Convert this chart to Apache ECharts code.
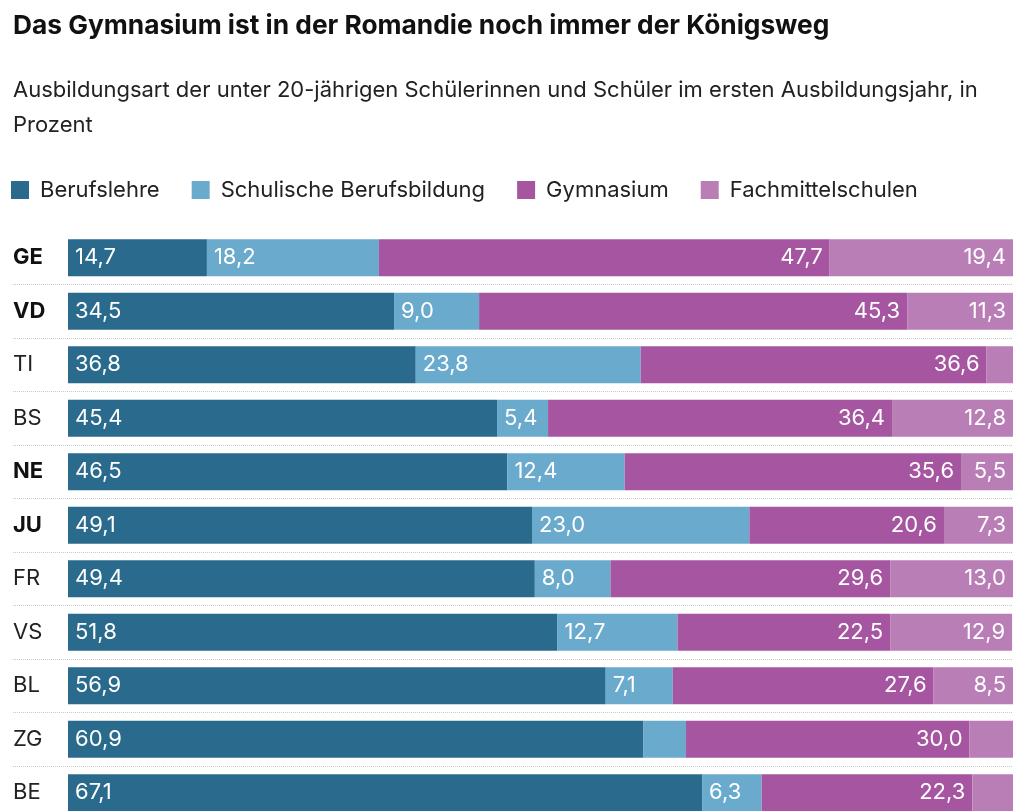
<!DOCTYPE html>
<html>
<head>
<meta charset="utf-8">
<script src="https://cdn.jsdelivr.net/npm/echarts@6/dist/echarts.min.js"></script>
<style>
html,body{margin:0;padding:0;background:#fff;}
#chart{width:1020px;height:811px;}
</style>
</head>
<body>
<div id="chart"></div>
<script>
const categories = ['GE','VD','TI','BS','NE','JU','FR','VS','BL','ZG','BE'];
const boldCategories = ['GE','VD','NE','JU'];
const seriesNames = ['Berufslehre','Schulische Berufsbildung','Gymnasium','Fachmittelschulen'];
const berufslehre = [14.7,34.5,36.8,45.4,46.5,49.1,49.4,51.8,56.9,60.9,67.1];
const schulisch   = [18.2,9.0,23.8,5.4,12.4,23.0,8.0,12.7,7.1,4.5,6.3];
const gymnasium   = [47.7,45.3,36.6,36.4,35.6,20.6,29.6,22.5,27.6,30.0,22.3];
const fms         = [19.4,11.3,2.8,12.8,5.5,7.3,13.0,12.9,8.5,4.6,4.3];
const colors = ['#2a6a8c','#6aaacd','#a656a1','#b97eb6'];

const FONT = 'Inter';
const chart = echarts.init(document.getElementById('chart'));

function lbl(pos){
  return {
    show: true,
    position: pos,
    distance: 7,
    color: '#fff',
    fontFamily: FONT,
    fontSize: 22,
    formatter: p => p.value < 5 ? '' : p.value.toFixed(1).replace('.', ',')
  };
}
const dataSets = [berufslehre, schulisch, gymnasium, fms];
const positions = ['insideLeft','insideLeft','insideRight','insideRight'];

const option = {
  animation: false,
  backgroundColor: '#fff',
  title: {
    text: 'Das Gymnasium ist in der Romandie noch immer der Königsweg',
    subtext: 'Ausbildungsart der unter 20-jährigen Schülerinnen und Schüler im ersten Ausbildungsjahr, in\nProzent',
    left: 13,
    top: 13,
    padding: 0,
    itemGap: 34,
    textStyle: {fontFamily: FONT, fontSize: 26.3, fontWeight: 'bold', color: '#111'},
    subtextStyle: {fontFamily: FONT, fontSize: 22, color: '#222', lineHeight: 35}
  },
  legend: {
    data: seriesNames,
    left: 11,
    top: 179,
    padding: 0,
    icon: 'rect',
    itemWidth: 18,
    itemHeight: 18,
    itemGap: 32,
    textStyle: {fontFamily: FONT, fontSize: 22, color: '#222', padding: [0,0,0,6]}
  },
  grid: [
    {left: 13, right: 7, top: 231, height: 588.5, outerBoundsMode: 'none', containLabel: false},
    {left: 68, right: 7, top: 231, height: 588.5, outerBoundsMode: 'none', containLabel: false}
  ],
  xAxis: [
    {gridIndex: 0, type: 'value', min: 0, max: 100, show: false},
    {gridIndex: 1, type: 'value', min: 0, max: 100, show: false}
  ],
  yAxis: [
    {gridIndex: 0, type: 'value', min: 0, max: categories.length, interval: 1, inverse: true,
     axisLine: {show: false}, axisTick: {show: false}, axisLabel: {show: false},
     splitLine: {show: true, showMinLine: false, showMaxLine: false, lineStyle: {type: 'dotted', color: '#c8c8c8', width: 1}}},
    {gridIndex: 1, type: 'category', data: categories, inverse: true,
     axisLine: {show: false}, axisTick: {show: false}, splitLine: {show: false},
     axisLabel: {
       margin: 55, align: 'left',
       formatter: v => boldCategories.includes(v) ? '{b|' + v + '}' : '{n|' + v + '}',
       rich: {
         b: {fontFamily: FONT, fontSize: 22, fontWeight: 'bold', color: '#111'},
         n: {fontFamily: FONT, fontSize: 22, color: '#222'}
       }
     }}
  ],
  series: dataSets.map((d, i) => ({
    name: seriesNames[i],
    type: 'bar',
    stack: 'total',
    xAxisIndex: 1,
    yAxisIndex: 1,
    barWidth: 37,
    data: d,
    itemStyle: {color: colors[i]},
    label: lbl(positions[i])
  }))
};
chart.setOption(option);
</script>
</body>
</html>
